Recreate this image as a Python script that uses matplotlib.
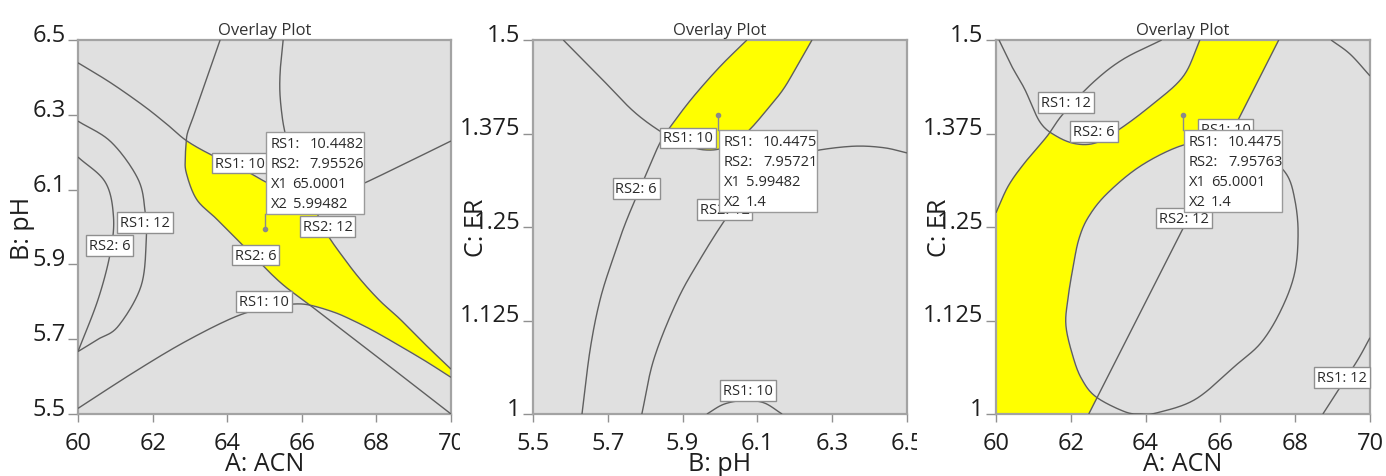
import numpy as np
import matplotlib
matplotlib.use("Agg")
import matplotlib.pyplot as plt
from matplotlib.patches import Polygon, Rectangle
from matplotlib.transforms import Bbox, TransformedBbox, ScaledTranslation

plt.rcParams['font.family'] = ['Open Sans', 'DejaVu Sans']

# ---------------- Panel 1 : A: ACN (x) vs B: pH (y) ----------------
p1_xticks = [60, 62, 64, 66, 68, 70]
p1_yticks = [5.5, 5.7, 5.9, 6.1, 6.3, 6.5]
p1_rs1_10_up_x = [60.00, 60.87, 61.76, 62.38, 62.92, 63.63, 64.34, 65.06, 65.68, 66.22, 66.75, 67.20, 67.60, 68.63, 70.00]
p1_rs1_10_up_y = [6.439, 6.386, 6.324, 6.275, 6.230, 6.190, 6.159, 6.119, 6.092, 6.083, 6.090, 6.101, 6.114, 6.163, 6.230]
p1_rs1_10_lo_x = [60.00, 61.49, 62.83, 64.17, 65.06, 65.77, 66.22, 66.84, 67.29, 67.91, 68.63, 69.34, 70.00]
p1_rs1_10_lo_y = [5.515, 5.611, 5.691, 5.758, 5.785, 5.794, 5.791, 5.773, 5.754, 5.723, 5.682, 5.640, 5.598]
p1_rs2_6_x = [63.81, 63.35, 63.10, 62.94, 62.90, 62.88, 62.90, 63.18, 63.72, 64.52, 65.41, 66.22, 67.29, 68.63, 70.00]
p1_rs2_6_y = [6.500, 6.368, 6.297, 6.253, 6.227, 6.190, 6.146, 6.074, 6.021, 5.941, 5.853, 5.791, 5.709, 5.606, 5.500]
p1_rs2_12_x = [65.50, 65.43, 65.41, 65.46, 65.55, 65.77, 66.13, 66.44, 66.71, 67.11, 67.56, 68.09, 68.63, 69.34, 70.00]
p1_rs2_12_y = [6.500, 6.431, 6.368, 6.306, 6.252, 6.163, 6.083, 6.030, 5.976, 5.919, 5.861, 5.803, 5.754, 5.683, 5.620]
p1_rs1_12_x = [60.00, 60.89, 61.61, 61.80, 61.83, 61.69, 61.08, 60.54, 60.00]
p1_rs1_12_y = [6.283, 6.227, 6.128, 6.040, 5.967, 5.842, 5.735, 5.700, 5.667]
p1_rs2_6b_x = [60.00, 60.73, 60.95, 60.87, 60.54, 60.00]
p1_rs2_6b_y = [6.187, 6.120, 6.029, 5.933, 5.807, 5.667]
p1_labels = ["RS1: 10", "RS1: 12", "RS2: 6", "RS2: 6", "RS2: 12", "RS1: 10"]
p1_label_x = [64.34, 61.79, 60.84, 64.76, 66.69, 64.98]
p1_label_y = [6.171, 6.012, 5.951, 5.925, 6.001, 5.801]
p1_point = (65.0001, 5.99482)
p1_info = [("RS1:", "10.4482"), ("RS2:", "7.95526"), ("X1", "65.0001"), ("X2", "5.99482")]

# ---------------- Panel 2 : B: pH (x) vs C: ER (y) ----------------
p2_xticks = [5.5, 5.7, 5.9, 6.1, 6.3, 6.5]
p2_yticks = [1.0, 1.125, 1.25, 1.375, 1.5]
p2_ytick_labels = ["1", "1.125", "1.25", "1.375", "1.5"]
p2_rs1_10_x = [5.581, 5.680, 5.768, 5.843, 5.894, 5.930, 5.961, 5.996, 6.037, 6.081, 6.126, 6.169, 6.206, 6.246]
p2_rs1_10_y = [1.500, 1.450, 1.405, 1.377, 1.364, 1.356, 1.353, 1.354, 1.361, 1.381, 1.407, 1.434, 1.465, 1.500]
p2_rs2_6_x = [5.631, 5.653, 5.680, 5.716, 5.751, 5.805, 5.840, 5.876, 5.930, 6.001, 6.072]
p2_rs2_6_y = [1.000, 1.087, 1.154, 1.211, 1.260, 1.323, 1.363, 1.390, 1.425, 1.465, 1.500]
p2_rs2_12_x = [5.791, 5.823, 5.885, 5.947, 6.014, 6.072, 6.143, 6.197, 6.255, 6.357, 6.438, 6.500]
p2_rs2_12_y = [1.000, 1.073, 1.151, 1.207, 1.260, 1.298, 1.327, 1.343, 1.352, 1.358, 1.356, 1.349]
p2_rs1_10b_x = [5.965, 6.010, 6.063, 6.117, 6.166]
p2_rs1_10b_y = [1.000, 1.013, 1.018, 1.015, 1.000]
p2_labels = ["RS1: 10", "RS2: 6", "RS2: 12", "RS1: 10"]
p2_label_x = [5.914, 5.776, 6.012, 6.074]
p2_label_y = [1.369, 1.301, 1.273, 1.031]
p2_point = (5.99482, 1.4)
p2_info = [("RS1:", "10.4475"), ("RS2:", "7.95721"), ("X1", "5.99482"), ("X2", "1.4")]

# ---------------- Panel 3 : A: ACN (x) vs C: ER (y) ----------------
p3_xticks = [60, 62, 64, 66, 68, 70]
p3_yticks = [1.0, 1.125, 1.25, 1.375, 1.5]
p3_rs1_12_x = [64.43, 63.39, 62.59, 61.79, 61.36, 60.77, 60.33, 60.00]
p3_rs1_12_y = [1.500, 1.474, 1.443, 1.401, 1.371, 1.336, 1.305, 1.269]
p3_rs2_6_x = [60.08, 60.42, 60.77, 61.18, 61.63, 62.16, 62.70, 63.31, 64.11, 65.00, 65.45]
p3_rs2_6_y = [1.500, 1.465, 1.434, 1.390, 1.371, 1.361, 1.363, 1.381, 1.411, 1.451, 1.500]
p3_rs2_12_x = [62.48, 65.02, 67.56]
p3_rs2_12_y = [1.000, 1.250, 1.500]
p3_rs1_10_x = [64.915, 65.761, 66.563, 67.275, 67.774, 67.988, 68.077, 67.988, 67.631, 67.097, 66.411,
               65.343, 64.337, 63.891, 63.446, 62.671, 62.289, 62.057, 61.870, 61.923, 62.066, 62.217,
               62.467, 62.956, 63.847]
p3_rs1_10_y = [1.358, 1.364, 1.358, 1.343, 1.320, 1.287, 1.243, 1.189, 1.140, 1.096, 1.065,
               1.020, 1.002, 1.000, 1.003, 1.023, 1.047, 1.077, 1.118, 1.154, 1.198, 1.234,
               1.263, 1.294, 1.331]
p3_rs1_12b_x = [68.74, 69.23, 69.68, 70.00]
p3_rs1_12b_y = [1.000, 1.038, 1.073, 1.102]
p3_top_x = [68.96, 69.47, 70.00]
p3_top_y = [1.500, 1.481, 1.452]
p3_labels = ["RS1: 12", "RS2: 6", "RS1: 10", "RS2: 12", "RS1: 12"]
p3_label_x = [61.87, 62.62, 66.14, 65.02, 69.25]
p3_label_y = [1.416, 1.378, 1.381, 1.262, 1.049]
p3_point = (65.0001, 1.4)
p3_info = [("RS1:", "10.4475"), ("RS2:", "7.95763"), ("X1", "65.0001"), ("X2", "1.4")]

# ---------------- styling ----------------
BG = '#e0e0e0'
YEL = '#ffff00'
LINE = '#5f5f5f'
W, H = 1386, 477
fig = plt.figure(figsize=(W / 100, H / 100), dpi=100)


def smooth(xs, ys, n=20, closed=False):
    P = np.column_stack([xs, ys]).astype(float)
    if closed:
        Q = np.vstack([P[-1], P, P[0], P[1]])
    else:
        Q = np.vstack([2 * P[0] - P[1], P, 2 * P[-1] - P[-2]])
    out = []
    t = np.linspace(0, 1, n, endpoint=False)[:, None]
    for i in range(1, len(Q) - 2):
        p0, p1, p2, p3 = Q[i - 1], Q[i], Q[i + 1], Q[i + 2]
        seg = 0.5 * ((2 * p1) + (-p0 + p2) * t + (2 * p0 - 5 * p1 + 4 * p2 - p3) * t ** 2
                     + (-p0 + 3 * p1 - 3 * p2 + p3) * t ** 3)
        out.append(seg)
    out.append(Q[-2][None, :])
    r = np.vstack(out)
    return r[:, 0], r[:, 1]


def make_ax(l, t, w, h):
    return fig.add_axes([l / W, 1 - (t + h) / H, w / W, h / H])


def style(ax, xlim, ylim, xt, yt, xtl, ytl, xlabel, ylabel, clip_right=None):
    ax.set_facecolor(BG)
    ax.set_xlim(xlim)
    ax.set_ylim(ylim)
    ax.set_xticks(xt)
    ax.set_xticklabels(xtl)
    ax.set_yticks(yt)
    ax.set_yticklabels(ytl)
    for s in ax.spines.values():
        s.set_color('#a3a3a3')
        s.set_linewidth(1.6)
    ax.tick_params(axis='x', direction='out', length=6, width=1, color='#909090',
                   labelsize=17, pad=6, labelcolor='#1e1e1e')
    ax.tick_params(axis='y', direction='out', length=7, width=1, color='#909090',
                   labelsize=17, pad=2, labelcolor='#1e1e1e')
    for lab in ax.get_yticklabels():
        lab.set_transform(lab.get_transform() + ScaledTranslation(0, 0.08, fig.dpi_scale_trans))
    if clip_right is not None:
        cb = TransformedBbox(Bbox([[0, 0], [clip_right / W, 1]]), fig.transFigure)
        for lab in ax.get_xticklabels():
            lab.set_clip_on(True)
            lab.set_clip_box(cb)
    ax.set_title('Overlay Plot', fontsize=12, color='#333333', pad=4)
    ax.set_xlabel(xlabel, fontsize=18, color='#1e1e1e', va='center')
    ax.xaxis.set_label_coords(0.5, -50 / 374)
    ax.set_ylabel(ylabel, fontsize=18, color='#1e1e1e', va='center')
    ax.yaxis.set_label_coords(-56 / 373, 0.5)


def curve(ax, xs, ys, closed=False):
    sx, sy = smooth(xs, ys, closed=closed)
    ax.plot(sx, sy, color=LINE, lw=1.0, zorder=3, solid_capstyle='butt')
    return sx, sy


def fill(ax, xs, ys, color, z):
    ax.add_patch(Polygon(np.column_stack([xs, ys]), closed=True, fc=color,
                         ec=color if color == BG else 'none', lw=0.8, zorder=z))


def labels(ax, names, xs, ys):
    for s, x, y in zip(names, xs, ys):
        ax.text(x, y, s, ha='center', va='center', fontsize=10.5, color='#2a2a2a', zorder=5,
                bbox=dict(boxstyle='square,pad=0.2', fc='white', ec='#8f8f8f', lw=1))


def info(ax, pt, rows, above):
    bb = ax.get_position()
    wpx = bb.width * W
    hpx = bb.height * H
    x0, x1 = ax.get_xlim()
    y0, y1 = ax.get_ylim()
    sx = (x1 - x0) / wpx
    sy = (y1 - y0) / hpx
    px, py = pt
    left = px + 1 * sx
    if above:
        bottom = py + 15 * sy
        top = bottom + 82 * sy
        ax.plot([px, px], [py, bottom], color='#8a8a8a', lw=1, zorder=6)
    else:
        top = py - 15 * sy
        bottom = top - 82 * sy
        ax.plot([px, px], [py, top], color='#8a8a8a', lw=1, zorder=6)
    ax.add_patch(Rectangle((left, bottom), 98 * sx, top - bottom, fc='white', ec='#9a9a9a',
                           lw=1, zorder=6))
    ax.plot([px], [py], 'o', ms=3, color='#8a8a8a', zorder=7)
    for i, (k, v) in enumerate(rows):
        yy = top - (12 + 20 * i) * sy
        ax.text(left + 5 * sx, yy, k, ha='left', va='center', fontsize=10.5, color='#2a2a2a', zorder=7)
        off = 44 if k.startswith('RS') else 27
        ax.text(left + off * sx, yy, v, ha='left', va='center', fontsize=10.5, color='#2a2a2a', zorder=7)


# ---------------- Panel 1 ----------------
ax1 = make_ax(78, 41, 373, 374)
style(ax1, (60, 70), (5.5, 6.5), p1_xticks, p1_yticks, [str(v) for v in p1_xticks],
      ['%.1f' % v for v in p1_yticks], 'A: ACN', 'B: pH', clip_right=460)
a_x, a_y = curve(ax1, p1_rs2_6_x, p1_rs2_6_y)
b_x, b_y = curve(ax1, p1_rs2_12_x, p1_rs2_12_y)
u_x, u_y = curve(ax1, p1_rs1_10_up_x, p1_rs1_10_up_y)
l_x, l_y = curve(ax1, p1_rs1_10_lo_x, p1_rs1_10_lo_y)
curve(ax1, p1_rs1_12_x, p1_rs1_12_y)
curve(ax1, p1_rs2_6b_x, p1_rs2_6b_y)
fill(ax1, np.r_[a_x, b_x[::-1]], np.r_[a_y, b_y[::-1]], YEL, 1.1)
fill(ax1, np.r_[u_x, 70, 60], np.r_[u_y, 6.5, 6.5], BG, 1.2)
fill(ax1, np.r_[l_x, 70, 60], np.r_[l_y, 5.5, 5.5], BG, 1.2)
labels(ax1, p1_labels, p1_label_x, p1_label_y)
info(ax1, p1_point, p1_info, above=True)

# ---------------- Panel 2 ----------------
ax2 = make_ax(533, 41, 374, 374)
style(ax2, (5.5, 6.5), (1.0, 1.5), p2_xticks, p2_yticks, ['%.1f' % v for v in p2_xticks],
      p2_ytick_labels, 'B: pH', 'C: ER', clip_right=917)
u_x, u_y = curve(ax2, p2_rs1_10_x, p2_rs1_10_y)
c_x, c_y = curve(ax2, p2_rs2_6_x, p2_rs2_6_y)
curve(ax2, p2_rs2_12_x, p2_rs2_12_y)
curve(ax2, p2_rs1_10b_x, p2_rs1_10b_y)
fill(ax2, u_x, u_y, YEL, 1.1)
fill(ax2, np.r_[c_x, 5.5, 5.5], np.r_[c_y, 1.5, 1.0], BG, 1.2)
labels(ax2, p2_labels, p2_label_x, p2_label_y)
info(ax2, p2_point, p2_info, above=False)

# ---------------- Panel 3 ----------------
ax3 = make_ax(996, 41, 374, 374)
style(ax3, (60, 70), (1.0, 1.5), p3_xticks, p3_yticks, [str(v) for v in p3_xticks],
      p2_ytick_labels, 'A: ACN', 'C: ER')
a_x, a_y = curve(ax3, p3_rs1_12_x, p3_rs1_12_y)
b_x, b_y = curve(ax3, p3_rs2_6_x, p3_rs2_6_y)
s_x, s_y = curve(ax3, p3_rs2_12_x, p3_rs2_12_y)
e_x, e_y = curve(ax3, p3_rs1_10_x, p3_rs1_10_y, closed=True)
curve(ax3, p3_rs1_12b_x, p3_rs1_12b_y)
curve(ax3, p3_top_x, p3_top_y)
fill(ax3, np.r_[a_x, 60, s_x], np.r_[a_y, 1.0, s_y], YEL, 1.1)
fill(ax3, b_x, b_y, BG, 1.2)
fill(ax3, e_x, e_y, BG, 1.2)
labels(ax3, p3_labels, p3_label_x, p3_label_y)
info(ax3, p3_point, p3_info, above=False)

fig.savefig('out.png', dpi=100)
